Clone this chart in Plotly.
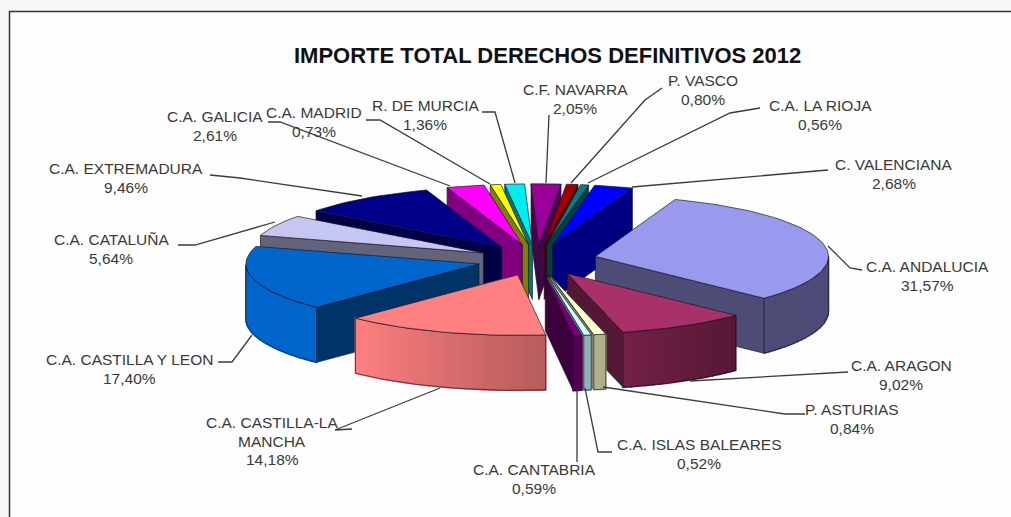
import numpy as np
import plotly.graph_objects as go

categories = ["C.A. ANDALUCIA", "C.A. ARAGON", "P. ASTURIAS", "C.A. ISLAS BALEARES", "C.A. CANTABRIA",
              "C.A. CASTILLA-LA<br>MANCHA", "C.A. CASTILLA Y LEON", "C.A. CATALUÑA", "C.A. EXTREMADURA",
              "C.A. GALICIA", "C.A. MADRID", "R. DE MURCIA", "C.F. NAVARRA", "P. VASCO", "C.A. LA RIOJA",
              "C. VALENCIANA"]
values = [31.57, 9.02, 0.84, 0.52, 0.59, 14.18, 17.40, 5.64, 9.46, 2.61, 0.73, 1.36, 2.05, 0.80, 0.56, 2.68]
top_colors = ["#9999EE", "#A93068", "#FFFFCC", "#CCFFFF", "#770077", "#FF8080", "#0066CC", "#C6C6F2",
              "#000088", "#FF00FF", "#FFFF00", "#00EEEE", "#990099", "#A00000", "#008080", "#0000FF"]
label_x = [927, 901, 852, 699, 534, 272, 129, 111, 126, 215, 314, 425, 575, 703, 820, 894]
label_y = [276, 375, 419, 454, 479, 441, 369, 249, 178, 126, 122, 115, 99, 90, 115, 174]
leaders = [[(862, 270), (850, 268), (828, 246)], [(848, 372), (690, 381)], [(805, 414), (785, 414), (603, 387)],
           [(612, 452), (598, 452), (585, 388)], [(577, 462), (577, 389)], [(352, 429), (335, 430), (440, 388)],
           [(218, 362), (232, 362), (252, 335)], [(178, 245), (195, 245), (275, 222)],
           [(210, 175), (240, 178), (362, 196)], [(268, 122), (280, 122), (450, 186)],
           [(366, 120), (380, 120), (490, 184)], [(482, 112), (495, 112), (515, 183)],
           [(549, 115), (546, 183)], [(662, 88), (645, 100), (571, 183)], [(760, 108), (730, 113), (588, 183)],
           [(828, 170), (632, 187)]]

CX, CY, R, KY, DEPTH, EXPLODE, START = 537, 260, 233, 0.26, 55, 60, 20
LINE_GAP = 18.5


def proj(theta_deg, radius, ox, oy, z=0):
    t = np.radians(theta_deg)
    return ox + radius * np.sin(t), oy - radius * np.cos(t) * KY + z


def shade(hex_color, f):
    rgb = [int(hex_color[i:i + 2], 16) for i in (1, 3, 5)]
    return "rgb(%d,%d,%d)" % tuple(round(c * f) for c in rgb)


def rim_factor(theta):
    if theta < 134:
        return 0.5
    if theta < 224:
        return 0.5 + 0.5 * (theta - 134) / 90
    return 1.0


OUTLINE = "rgba(20,20,40,0.75)"


def poly(fig, xs, ys, fill, line=OUTLINE, width=0.9):
    fig.add_trace(go.Scatter(x=list(xs), y=list(ys), mode="lines", fill="toself", fillcolor=fill,
                             line=dict(color=line, width=width), hoverinfo="skip", showlegend=False))


total = sum(values)
edges = START + np.cumsum([0] + values) / total * 360
slices = []
for i, v in enumerate(values):
    slices.append((i, edges[i], edges[i + 1]))
slices.sort(key=lambda s: -np.cos(np.radians((s[1] + s[2]) / 2)))

fig = go.Figure()
for i, a, b in slices:
    mid = (a + b) / 2
    ox = CX + EXPLODE * np.sin(np.radians(mid))
    oy = CY - EXPLODE * np.cos(np.radians(mid)) * KY
    col = top_colors[i]
    # radial walls
    for edge, visible in ((a, np.sin(np.radians(a)) < 0), (b, np.sin(np.radians(b)) > 0)):
        if visible:
            px, py = proj(edge, R, ox, oy)
            poly(fig, [ox, px, px, ox, ox], [oy, py, py + DEPTH, oy + DEPTH, oy], shade(col, 0.5))
    # outer rim, front part only, shaded strip by strip
    front = np.linspace(a, b, max(3, int((b - a) / 2) + 2))
    front = front[np.cos(np.radians(front)) < 0.02]
    if len(front) > 1:
        for t0, t1 in zip(front[:-1], front[1:]):
            x0, y0 = proj(t0, R, ox, oy)
            x1, y1 = proj(t1, R, ox, oy)
            c = shade(col, rim_factor((t0 + t1) / 2))
            poly(fig, [x0, x1, x1, x0, x0], [y0, y1, y1 + DEPTH, y0 + DEPTH, y0], c, line=c, width=1.6)
        xf, yf = proj(front, R, ox, oy)
        fig.add_trace(go.Scatter(x=list(xf) + list(xf[::-1]) + [xf[0]],
                                 y=list(yf) + list((yf + DEPTH)[::-1]) + [yf[0]], mode="lines",
                                 line=dict(color=OUTLINE, width=0.9), hoverinfo="skip", showlegend=False))
    # top face
    arc = np.linspace(a, b, max(3, int((b - a) / 2) + 2))
    ax, ay = proj(arc, R, ox, oy)
    poly(fig, [ox] + list(ax) + [ox], [oy] + list(ay) + [oy], col)

for pts in leaders:
    fig.add_trace(go.Scatter(x=[p[0] for p in pts], y=[p[1] for p in pts], mode="lines",
                             line=dict(color="#3c3c3c", width=1.3), hoverinfo="skip", showlegend=False))

annotations = []
for i in range(len(values)):
    lines = categories[i].split("<br>") + [("%.2f" % values[i]).replace(".", ",") + "%"]
    for k, text in enumerate(lines):
        annotations.append(dict(x=label_x[i], y=label_y[i] + (k - (len(lines) - 1) / 2) * LINE_GAP,
                                xref="x", yref="y", showarrow=False, xanchor="center", yanchor="middle", text=text,
                                font=dict(family="Liberation Sans", size=15.5, color="#3a3a3a")))
annotations.append(dict(x=547, y=55, xref="x", yref="y", showarrow=False, xanchor="center", yanchor="middle",
                        text="<b>IMPORTE TOTAL DERECHOS DEFINITIVOS 2012</b>",
                        font=dict(family="Liberation Sans", size=22, color="#111111")))

fig.update_layout(
    width=1011, height=517, margin=dict(l=0, r=0, t=0, b=0), showlegend=False,
    paper_bgcolor="#f7f7f7", plot_bgcolor="#f7f7f7",
    xaxis=dict(range=[0, 1011], visible=False, fixedrange=True),
    yaxis=dict(range=[517, 0], visible=False, fixedrange=True),
    annotations=annotations,
    shapes=[dict(type="rect", xref="x", yref="y", x0=9.5, y0=11.5, x1=1030, y1=530,
                 line=dict(color="#333333", width=1.5), fillcolor="#fdfdfd", layer="below")],
)
fig.write_html("out.html", config={"displayModeBar": False},
               post_script="document.body.style.margin='0';document.body.style.overflow='hidden';")
